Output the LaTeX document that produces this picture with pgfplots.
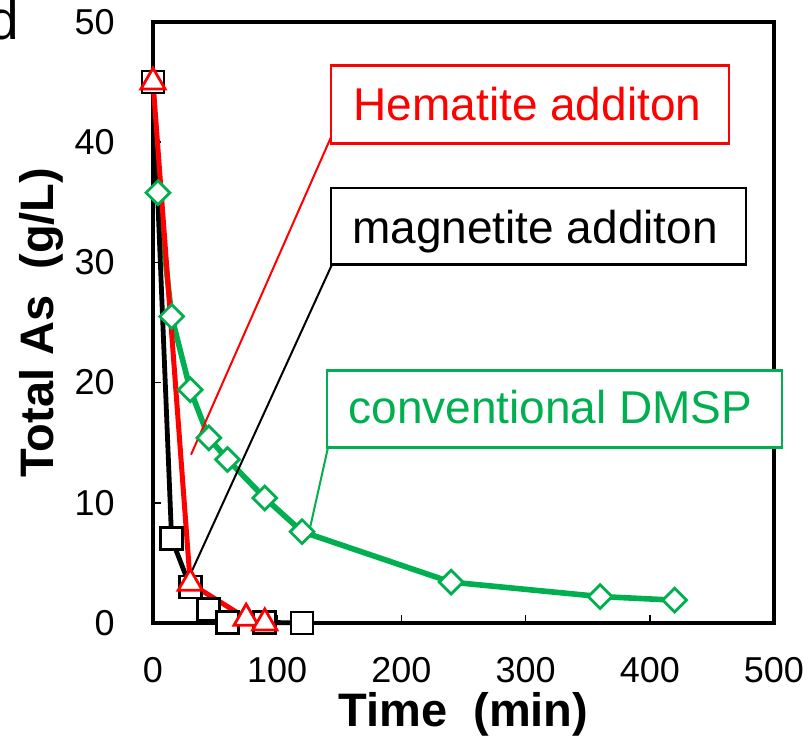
\documentclass[border=0pt]{standalone}
\usepackage{fontspec}
\setmainfont{Liberation Sans}
\usepackage{pgfplots}
\pgfplotsset{compat=1.18}
\definecolor{dmspgreen}{RGB}{0,176,80}

\begin{document}
\begin{tikzpicture}
\begin{axis}[
    at={(0,0)}, anchor=south west,
    scale only axis,
    width=310.5pt, height=300.5pt,
    xmin=0, xmax=500, ymin=0, ymax=50,
    xtick={0,100,...,500}, ytick={0,10,...,50},
    tick pos=left, tick align=inside,
    major tick length=4pt,
    tick style={black, line width=0.75pt},
    axis line style={line width=1.75pt},
    clip=false,
    /pgf/number format/assume math mode=true,
    ticklabel style={font=\fontsize{18}{20}\selectfont},
    xticklabel style={inner sep=0pt, anchor=north, yshift=-17pt},
    yticklabel style={inner sep=0pt, anchor=east, xshift=-19pt},
    label style={font=\fontsize{23.5}{26}\selectfont\bfseries},
    xlabel={Time\hspace{0.55em}(min)},
    xlabel style={at={(axis description cs:0.5,-0.173)}, anchor=base, inner sep=0pt},
    ylabel={Total As\hspace{0.55em}(g/L)},
    ylabel style={at={(axis description cs:-0.179,0.5)}, anchor=center, inner sep=0pt},
]
% conventional DMSP
\addplot[dmspgreen, line width=2.8pt, mark=square*, mark size=4.2pt,
    mark options={fill=white, line width=1.4pt, rotate=45}]
    coordinates {(4,35.8) (15,25.5) (30,19.4) (45,15.4) (60,13.6)
                 (90,10.4) (120,7.6) (240,3.4) (360,2.2) (420,1.9)};
% magnetite addition
\addplot[black, line width=2.4pt, mark=square*, mark size=5.5pt,
    mark options={fill=white, line width=1.4pt}]
    coordinates {(0,45) (15,7.0) (30,3.0) (45,1.1) (60,0.05) (90,0.05) (120,0)};
% hematite addition
\addplot[red, line width=2.5pt, mark=triangle*, mark size=7pt,
    mark options={fill=white, line width=1.4pt}]
    coordinates {(0,45) (30,3.3) (75,0.4) (90,0)};

% callouts
\draw[red, line width=1pt] (axis cs:144.1,40.6) -- (axis cs:30.6,14.0);
\draw[red, line width=1.3pt, fill=white] (axis cs:143.3,39.9) rectangle (axis cs:463.8,46.4);
\node[red, anchor=base, inner sep=0pt, font=\fontsize{23}{26}\selectfont]
    at (axis cs:301.5,41.8) {Hematite additon};

\draw[black, line width=1pt] (axis cs:144.9,30.0) -- (axis cs:29,3.8);
\draw[black, line width=1.3pt, fill=white] (axis cs:143.3,29.8) rectangle (axis cs:477.5,36.2);
\node[black, anchor=base, inner sep=0pt, font=\fontsize{23}{26}\selectfont]
    at (axis cs:307.6,31.6) {magnetite additon};

\draw[dmspgreen, line width=1pt] (axis cs:140.9,14.6) -- (axis cs:126.4,7.9);
\draw[dmspgreen, line width=1.3pt, fill=white] (axis cs:140.1,14.6) rectangle (axis cs:506.4,21.0);
\node[dmspgreen, anchor=base, inner sep=0pt, font=\fontsize{23}{26}\selectfont]
    at (axis cs:320,16.6) {conventional DMSP};
\end{axis}
\node[anchor=base east, inner sep=0pt, font=\fontsize{27.5}{30}\selectfont] at (-67pt,291.5pt) {d};
\pgfresetboundingbox
\path (-76.5pt,-57.5pt) rectangle (328pt,311.5pt);
\end{tikzpicture}
\end{document}
